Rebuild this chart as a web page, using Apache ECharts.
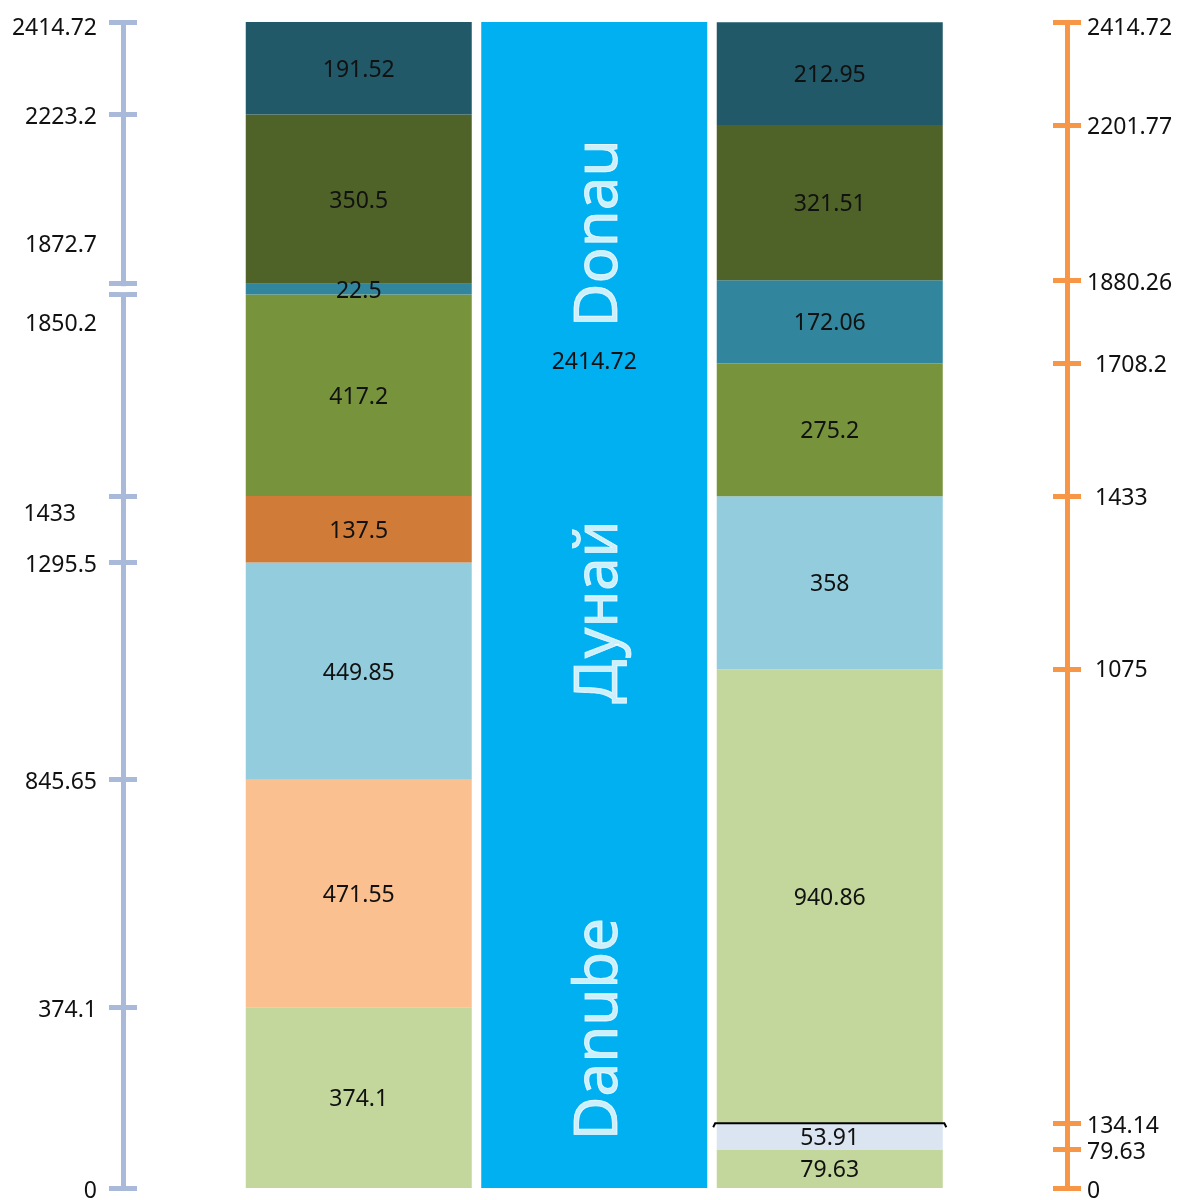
<!DOCTYPE html>
<html>
<head>
<meta charset="utf-8">
<script src="https://cdn.jsdelivr.net/npm/echarts@6/dist/echarts.min.js"></script>
<style>
  html, body { margin: 0; padding: 0; background: #fff; }
  #chart { width: 1179px; height: 1200px; }
</style>
</head>
<body>
<div id="chart"></div>
<script>
// data
var categories = ['left', 'river', 'right'];
var leftValues = [374.1, 471.55, 449.85, 137.5, 417.2, 22.5, 350.5, 191.52];
var rightValues = [79.63, 53.91, 940.86, 358, 275.2, 172.06, 321.51, 212.95];
var riverTotal = 2414.72;
var leftTicks = [0, 374.1, 845.65, 1295.5, 1433, 1850.2, 1872.7, 2223.2, 2414.72];
var rightTicks = [0, 79.63, 134.14, 1075, 1433, 1708.2, 1880.26, 2201.77, 2414.72];
var riverNames = ['Danube', 'Дунай', 'Donau'];
var riverNameAt = [329, 1193, 1977];
var markValue = 134.14;
var breakFrom = 1850.2, breakTo = 1872.7;

// colours bottom -> top
var leftColors = ['#C3D69B', '#FAC090', '#93CDDD', '#D07B38', '#77933C', '#31859C', '#4F6228', '#215968'];
var rightColors = ['#C3D69B', '#DBE5F1', '#C3D69B', '#93CDDD', '#77933C', '#31859C', '#4F6228', '#215968'];

var FONT = 'Noto Sans';
var TXT = '#111';
var chart = echarts.init(document.getElementById('chart'));

function leftLabel(v) {
  if (v === riverTotal) return '{top|' + v + '}';
  if (v === 1872.7) return '{up|' + v + '}';
  if (v === 1850.2) return '{down|' + v + '}';
  if (v === 1433) return '{shift|' + v + '}';
  return '{n|' + v + '}';
}
function rightLabel(v) {
  if (v === riverTotal) return '{top|' + v + '}';
  if (v === 1708.2 || v === 1433 || v === 1075) return '{ind|' + v + '}';
  return '{n|' + v + '}';
}

function sideAxis(pos, offset, color, ticks, inside, withLabels) {
  var axis = {
    type: 'value',
    position: pos,
    offset: offset,
    min: 0,
    max: riverTotal,
    splitLine: { show: false },
    axisLine: { show: true, lineStyle: { color: color, width: 5, cap: 'butt' } },
    axisTick: {
      show: true,
      inside: inside,
      length: 14,
      customValues: ticks,
      lineStyle: { color: color, width: 5 }
    },
    axisLabel: { show: false }
  };
  if (withLabels) {
    axis.axisLabel = {
      show: true,
      customValues: ticks,
      margin: pos === 'left' ? 26 : 20,
      color: TXT,
      fontFamily: FONT,
      fontSize: 23,
      formatter: pos === 'left' ? leftLabel : rightLabel,
      rich: {
        n: { fontFamily: FONT, fontSize: 23, color: TXT, padding: [6, 0, 0, 0] },
        top: { fontFamily: FONT, fontSize: 23, color: TXT, padding: [12, 0, 0, 0] },
        up: { fontFamily: FONT, fontSize: 23, color: TXT, padding: [0, 0, 76, 0] },
        down: { fontFamily: FONT, fontSize: 23, color: TXT, padding: [60, 0, 0, 0] },
        shift: { fontFamily: FONT, fontSize: 23, color: TXT, padding: [36, 21, 0, 0] },
        ind: { fontFamily: FONT, fontSize: 23, color: TXT, padding: [4, 0, 0, 8] }
      }
    };
  }
  return axis;
}

var series = [];
for (var i = 0; i < leftValues.length; i++) {
  series.push({
    type: 'bar',
    stack: 'segments',
    barWidth: 226,
    barGap: '-100%',
    data: [
      { value: leftValues[i], itemStyle: { color: leftColors[i] } },
      '-',
      { value: rightValues[i], itemStyle: { color: rightColors[i] } }
    ],
    label: {
      show: true,
      position: 'inside',
      offset: [0, 2],
      color: TXT,
      fontFamily: FONT,
      fontSize: 23
    },
    emphasis: { disabled: true }
  });
}

// the river bar in the middle
series.push({
  type: 'bar',
  barWidth: 226,
  barGap: '-100%',
  data: ['-', riverTotal, '-'],
  itemStyle: { color: '#00B0F0' },
  label: {
    show: true,
    position: 'inside',
    offset: [0, -243],
    color: TXT,
    fontFamily: FONT,
    fontSize: 23
  },
  emphasis: { disabled: true }
});

// river names, rotated
series.push({
  type: 'scatter',
  symbolSize: 0,
  data: riverNames.map(function (n, k) { return { name: n, value: [1, riverNameAt[k]] }; }),
  label: {
    show: true,
    position: 'inside',
    rotate: 90,
    offset: [0, 6],
    formatter: '{b}',
    color: '#fff',
    fontFamily: FONT,
    fontSize: 60,
    textBorderColor: '#fff',
    textBorderWidth: 0.8
  },
  z: 5,
  silent: true
});

// black bracket at 134.14 on the right bar
series.push({
  type: 'custom',
  data: [[2, markValue]],
  z: 6,
  silent: true,
  renderItem: function (params, api) {
    var p = api.coord([api.value(0), api.value(1)]);
    var half = api.size([1, 0])[0] * 0.495;
    return {
      type: 'polyline',
      shape: {
        points: [[p[0] - half, p[1] + 4], [p[0] - half + 2, p[1]], [p[0] + half - 2, p[1]], [p[0] + half, p[1] + 4]]
      },
      style: { stroke: '#000', lineWidth: 2, fill: null }
    };
  }
});

var option = {
  animation: false,
  backgroundColor: '#fff',
  grid: { left: 241, right: 231.5, top: 22, bottom: 12, containLabel: false, outerBoundsMode: 'none' },
  xAxis: {
    type: 'category',
    data: categories,
    show: false
  },
  yAxis: [
    sideAxis('left', 118, '#A9B9D9', leftTicks, false, true),
    sideAxis('left', 118, '#A9B9D9', leftTicks, true, false),
    sideAxis('right', 119.5, '#F79646', rightTicks, false, true),
    sideAxis('right', 119.5, '#F79646', rightTicks, true, false)
  ],
  series: series
};
chart.setOption(option);

// cut the left axis line between the two break ticks
var yTop = chart.convertToPixel({ yAxisIndex: 0 }, breakTo);
var yBot = chart.convertToPixel({ yAxisIndex: 0 }, breakFrom);
var axisX = 241 - 118;
chart.setOption({
  graphic: [{
    type: 'rect',
    z: 100,
    shape: { x: axisX - 4, y: yTop + 2.5, width: 8, height: yBot - yTop - 5 },
    style: { fill: '#fff' }
  }]
});
</script>
</body>
</html>
